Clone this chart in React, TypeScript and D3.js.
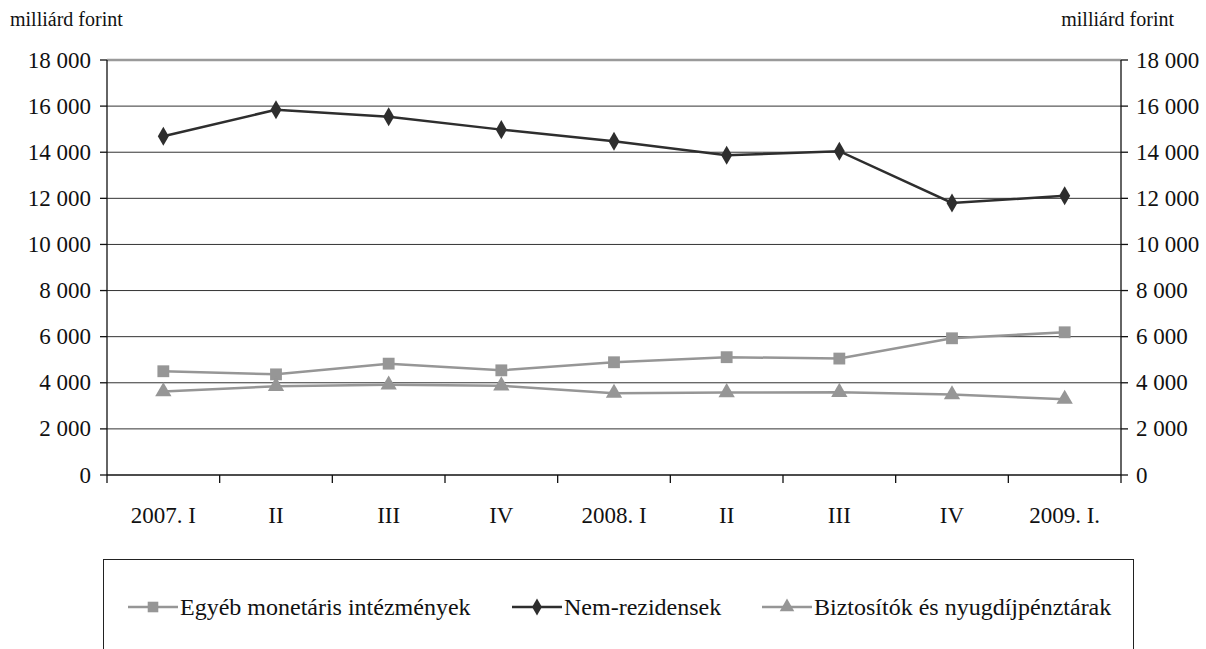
import React, { useEffect, useRef } from 'react'
import { select, scaleBand, scaleLinear, line, symbol, symbolSquare, symbolDiamond, symbolTriangle } from 'd3'

const categories = ['2007. I', 'II', 'III', 'IV', '2008. I', 'II', 'III', 'IV', '2009. I.']
const egyeb = [4500, 4365, 4830, 4540, 4890, 5110, 5050, 5930, 6190]
const nemRezidensek = [14690, 15845, 15540, 14980, 14475, 13870, 14045, 11800, 12110]
const biztositok = [3620, 3850, 3910, 3870, 3550, 3580, 3590, 3490, 3290]
const yTicks = [0, 2000, 4000, 6000, 8000, 10000, 12000, 14000, 16000, 18000]
const unitLabel = 'milliárd forint'

const series = [
  { name: 'Egyéb monetáris intézmények', values: egyeb, color: '#969696', shape: symbolSquare, size: 140 },
  { name: 'Nem-rezidensek', values: nemRezidensek, color: '#2e2e2e', shape: symbolDiamond, size: 105 },
  { name: 'Biztosítók és nyugdíjpénztárak', values: biztositok, color: '#969696', shape: symbolTriangle, size: 115 },
]

const FONT = '"Liberation Serif", "Times New Roman", serif'
const fmt = (v: number) => (v >= 1000 ? Math.floor(v / 1000) + ' ' + String(v % 1000).padStart(3, '0') : String(v))

export default function App() {
  const svgRef = useRef<SVGSVGElement>(null)

  useEffect(() => {
    document.body.style.margin = '0'
    const svg = select(svgRef.current)
    svg.selectAll('*').remove()

    const left = 107, right = 1121, top = 60, bottom = 475

    const x = scaleBand().domain(categories.map((c, i) => i + '')).range([left, right])
    const y = scaleLinear().domain([0, 18000]).range([bottom, top])
    const cx = (i: number) => (x(i + '') as number) + x.bandwidth() / 2

    // grid lines
    svg.selectAll('line.grid')
      .data(yTicks.filter(t => t > 0))
      .join('line')
      .attr('x1', left).attr('x2', right)
      .attr('y1', d => y(d)).attr('y2', d => y(d))
      .attr('stroke', d => (d === 18000 ? '#9a9a9a' : '#333'))
      .attr('stroke-width', d => (d === 18000 ? 2.5 : 1))

    // axes
    const axis = svg.append('g').attr('stroke', '#111').attr('stroke-width', 1.3)
    axis.append('line').attr('x1', left).attr('x2', left).attr('y1', top).attr('y2', bottom)
    axis.append('line').attr('x1', right).attr('x2', right).attr('y1', top).attr('y2', bottom)
    axis.append('line').attr('x1', left).attr('x2', right).attr('y1', bottom).attr('y2', bottom)
    yTicks.forEach(t => {
      axis.append('line').attr('x1', left - 7).attr('x2', left).attr('y1', y(t)).attr('y2', y(t))
      axis.append('line').attr('x1', right).attr('x2', right + 7).attr('y1', y(t)).attr('y2', y(t))
    })
    categories.forEach((c, i) => {
      const xx = x(i + '') as number
      axis.append('line').attr('x1', xx).attr('x2', xx).attr('y1', bottom).attr('y2', bottom + 8)
    })
    axis.append('line').attr('x1', right).attr('x2', right).attr('y1', bottom).attr('y2', bottom + 8)

    // tick labels
    svg.selectAll('text.yl')
      .data(yTicks)
      .join('text')
      .attr('x', left - 16).attr('y', d => y(d) + 7.5)
      .attr('text-anchor', 'end')
      .attr('font-family', FONT).attr('font-size', 23).attr('fill', '#111')
      .text(d => fmt(d))
    svg.selectAll('text.yr')
      .data(yTicks)
      .join('text')
      .attr('x', right + 15).attr('y', d => y(d) + 7.5)
      .attr('text-anchor', 'start')
      .attr('font-family', FONT).attr('font-size', 23).attr('fill', '#111')
      .text(d => fmt(d))
    svg.selectAll('text.xl')
      .data(categories)
      .join('text')
      .attr('x', (d, i) => cx(i)).attr('y', 523)
      .attr('text-anchor', 'middle')
      .attr('font-family', FONT).attr('font-size', 23).attr('fill', '#111')
      .text(d => d)

    svg.append('text').attr('x', 10).attr('y', 26)
      .attr('font-family', FONT).attr('font-size', 20).attr('fill', '#111').text(unitLabel)
    svg.append('text').attr('x', 1174).attr('y', 26).attr('text-anchor', 'end')
      .attr('font-family', FONT).attr('font-size', 20).attr('fill', '#111').text(unitLabel)

    // series lines and markers
    const myLine = line<number>().x((d, i) => cx(i)).y(d => y(d))
    series.forEach(s => {
      svg.append('path')
        .attr('d', myLine(s.values))
        .attr('fill', 'none').attr('stroke', s.color).attr('stroke-width', 2.5)
      svg.selectAll(null)
        .data(s.values)
        .join('path')
        .attr('transform', (d, i) => `translate(${cx(i)},${y(d)})`)
        .attr('d', symbol().type(s.shape).size(s.size)())
        .attr('fill', s.color)
    })

    // legend
    svg.append('rect').attr('x', 103.5).attr('y', 559.5).attr('width', 1030).attr('height', 120)
      .attr('fill', 'none').attr('stroke', '#222').attr('stroke-width', 1)
    const legendX = [128, 512, 762]
    series.forEach((s, i) => {
      const g = svg.append('g').attr('transform', `translate(${legendX[i]},607)`)
      g.append('line').attr('x1', 0).attr('x2', 50).attr('y1', 0).attr('y2', 0)
        .attr('stroke', s.color).attr('stroke-width', 2.5)
      g.append('path').attr('transform', 'translate(25,0)')
        .attr('d', symbol().type(s.shape).size(s.size * 0.8)()).attr('fill', s.color)
      g.append('text').attr('x', 52).attr('y', 8)
        .attr('font-family', FONT).attr('font-size', 24).attr('fill', '#111').text(s.name)
    })
  }, [])

  return (
    <div>
      <svg ref={svgRef} width={1206} height={649} style={{ display: 'block' }}></svg>
    </div>
  )
}
